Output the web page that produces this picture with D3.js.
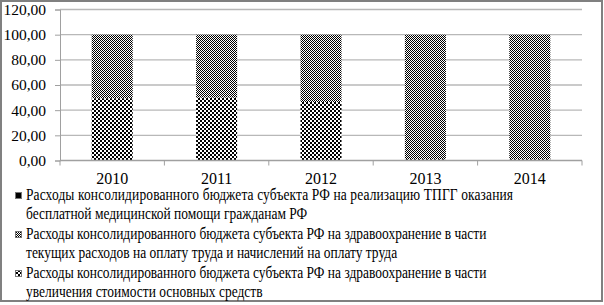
<!DOCTYPE html>
<html>
<head>
<meta charset="utf-8">
<script src="https://cdn.jsdelivr.net/npm/d3@7"></script>
<style>
  html, body { margin: 0; padding: 0; background: #fff; }
  svg { display: block; }
</style>
</head>
<body>
<div id="chart"></div>
<script>
const YEARS = ["2010", "2011", "2012", "2013", "2014"];
// series values, % of total
const TPGG = [0, 0, 0, 0, 0];
const SALARY = [50.5, 50, 53.5, 99, 99];
const ASSETS = [49.5, 50, 46.5, 1, 1];
const Y_TICKS = [0, 20, 40, 60, 80, 100, 120];
const LEGEND = [
    ["Расходы консолидированного бюджета субъекта РФ на реализацию ТПГГ оказания",
     "бесплатной медицинской помощи гражданам РФ"],
    ["Расходы консолидированного бюджета субъекта РФ на здравоохранение в части",
     "текущих расходов на оплату труда и начислений на оплату труда"],
    ["Расходы консолидированного бюджета субъекта РФ на здравоохранение в части",
     "увеличения стоимости основных средств"]
];

const FONT = "Liberation Serif";
const width = 604, height = 305;
const plot = { left: 60, right: 582, top: 9.5, bottom: 160.5 };
const LINE1_W = 487, PLAIN_W = 461; // justified first line / a plain full line

const svg = d3.select("#chart").append("svg")
    .attr("width", width)
    .attr("height", height);

// patterns
const defs = svg.append("defs");
const fine = defs.append("pattern").attr("id", "fine")
    .attr("width", 2).attr("height", 2).attr("patternUnits", "userSpaceOnUse");
fine.append("rect").attr("width", 2).attr("height", 2).attr("fill", "#fff");
fine.append("rect").attr("width", 1).attr("height", 1).attr("fill", "#000");
fine.append("rect").attr("x", 1).attr("y", 1).attr("width", 1).attr("height", 1).attr("fill", "#000");

const coarse = defs.append("pattern").attr("id", "coarse")
    .attr("width", 4).attr("height", 4).attr("patternUnits", "userSpaceOnUse");
coarse.append("rect").attr("width", 4).attr("height", 4).attr("fill", "#fff");
coarse.append("rect").attr("width", 2).attr("height", 2).attr("fill", "#000");
coarse.append("rect").attr("x", 2).attr("y", 2).attr("width", 2).attr("height", 2).attr("fill", "#000");

const FILLS = ["#000", "url(#fine)", "url(#coarse)"];

svg.append("rect")
    .attr("x", 1).attr("y", 1)
    .attr("width", 601).attr("height", 300)
    .attr("fill", "#fff")
    .attr("stroke", "#808080")
    .attr("stroke-width", 2);

const x = d3.scaleBand().domain(YEARS)
    .range([plot.left, plot.right])
    .paddingInner(0.607).paddingOuter(0.3035);
const y = d3.scaleLinear().domain([0, 120]).range([plot.bottom, plot.top]);

const ru = d3.formatLocale({ decimal: ",", thousands: " ", grouping: [3], currency: ["", ""] });
const fmt = ru.format(".2f");

// gridlines
svg.append("g").selectAll("line")
    .data(Y_TICKS.filter(d => d > 0))
    .enter().append("line")
    .attr("x1", plot.left).attr("x2", plot.right)
    .attr("y1", d => y(d)).attr("y2", d => y(d))
    .attr("stroke", "#b8b8b8")
    .attr("stroke-width", 1.3);

// y axis
svg.append("g")
    .attr("transform", `translate(${plot.left},0)`)
    .call(d3.axisLeft(y).tickValues(Y_TICKS).tickFormat(fmt).tickSize(5).tickPadding(9))
    .attr("font-family", FONT)
    .attr("font-size", 15.5)
    .call(g => g.selectAll("line, path").attr("stroke", "#a0a0a0"))
    .selectAll("text")
    .attr("fill", "#000");

// stacked bars (assets at bottom, salaries on top, TPGG)
const order = [ASSETS, SALARY, TPGG];
const orderFill = [FILLS[2], FILLS[1], FILLS[0]];
const barG = svg.append("g");
YEARS.forEach((yr, i) => {
    let base = 0;
    order.forEach((s, k) => {
        const v = s[i];
        if (v > 0) {
            barG.append("rect")
                .attr("x", x(yr))
                .attr("width", x.bandwidth())
                .attr("y", y(base + v))
                .attr("height", y(base) - y(base + v))
                .attr("fill", orderFill[k]);
        }
        base += v;
    });
});

// x axis
const xAxis = svg.append("g")
    .attr("transform", `translate(0,${plot.bottom})`);
xAxis.append("line")
    .attr("x1", plot.left).attr("x2", plot.right)
    .attr("stroke", "#a0a0a0").attr("stroke-width", 1.3);
const bounds = YEARS.map(d => x(d) - x.step() * x.paddingInner() / 2).concat([plot.right]);
xAxis.selectAll("line.tick")
    .data(bounds)
    .enter().append("line")
    .attr("class", "tick")
    .attr("x1", d => d).attr("x2", d => d)
    .attr("y1", 0).attr("y2", 5)
    .attr("stroke", "#a0a0a0");
xAxis.selectAll("text")
    .data(YEARS)
    .enter().append("text")
    .attr("x", d => x(d) + x.bandwidth() / 2)
    .attr("y", 23)
    .attr("text-anchor", "middle")
    .attr("font-family", FONT)
    .attr("font-size", 16)
    .text(d => d);

// legend: text is narrowed horizontally, like in the picture
const legendTop = 200;
const lg = svg.append("g");
LEGEND.forEach((lines, i) => {
    const y0 = legendTop + i * 39;
    lg.append("rect")
        .attr("x", 15.5).attr("y", y0 - 7.5)
        .attr("width", 6).attr("height", 6)
        .attr("fill", FILLS[i])
        .attr("stroke", "#777")
        .attr("stroke-width", 1);
    lines.forEach((t, j) => {
        const txt = lg.append("text")
            .attr("font-family", FONT)
            .attr("font-size", 16.5)
            .text(t);
        txt.datum({ natural: txt.node().getComputedTextLength(), i, j, yy: y0 + j * 18.5 });
    });
});
// common narrowing factor taken from a plain (not justified) full line
const ref = lg.selectAll("text").filter(d => d.i === 1 && d.j === 0).datum();
const k = PLAIN_W / ref.natural;
lg.selectAll("text").each(function (d) {
    const sel = d3.select(this)
        .attr("transform", `translate(26,${d.yy}) scale(${k},1)`);
    if (d.i === 0 && d.j === 0) {
        // justified first line: wider gaps
        sel.attr("textLength", LINE1_W / k).attr("lengthAdjust", "spacing");
    }
});
</script>
</body>
</html>
